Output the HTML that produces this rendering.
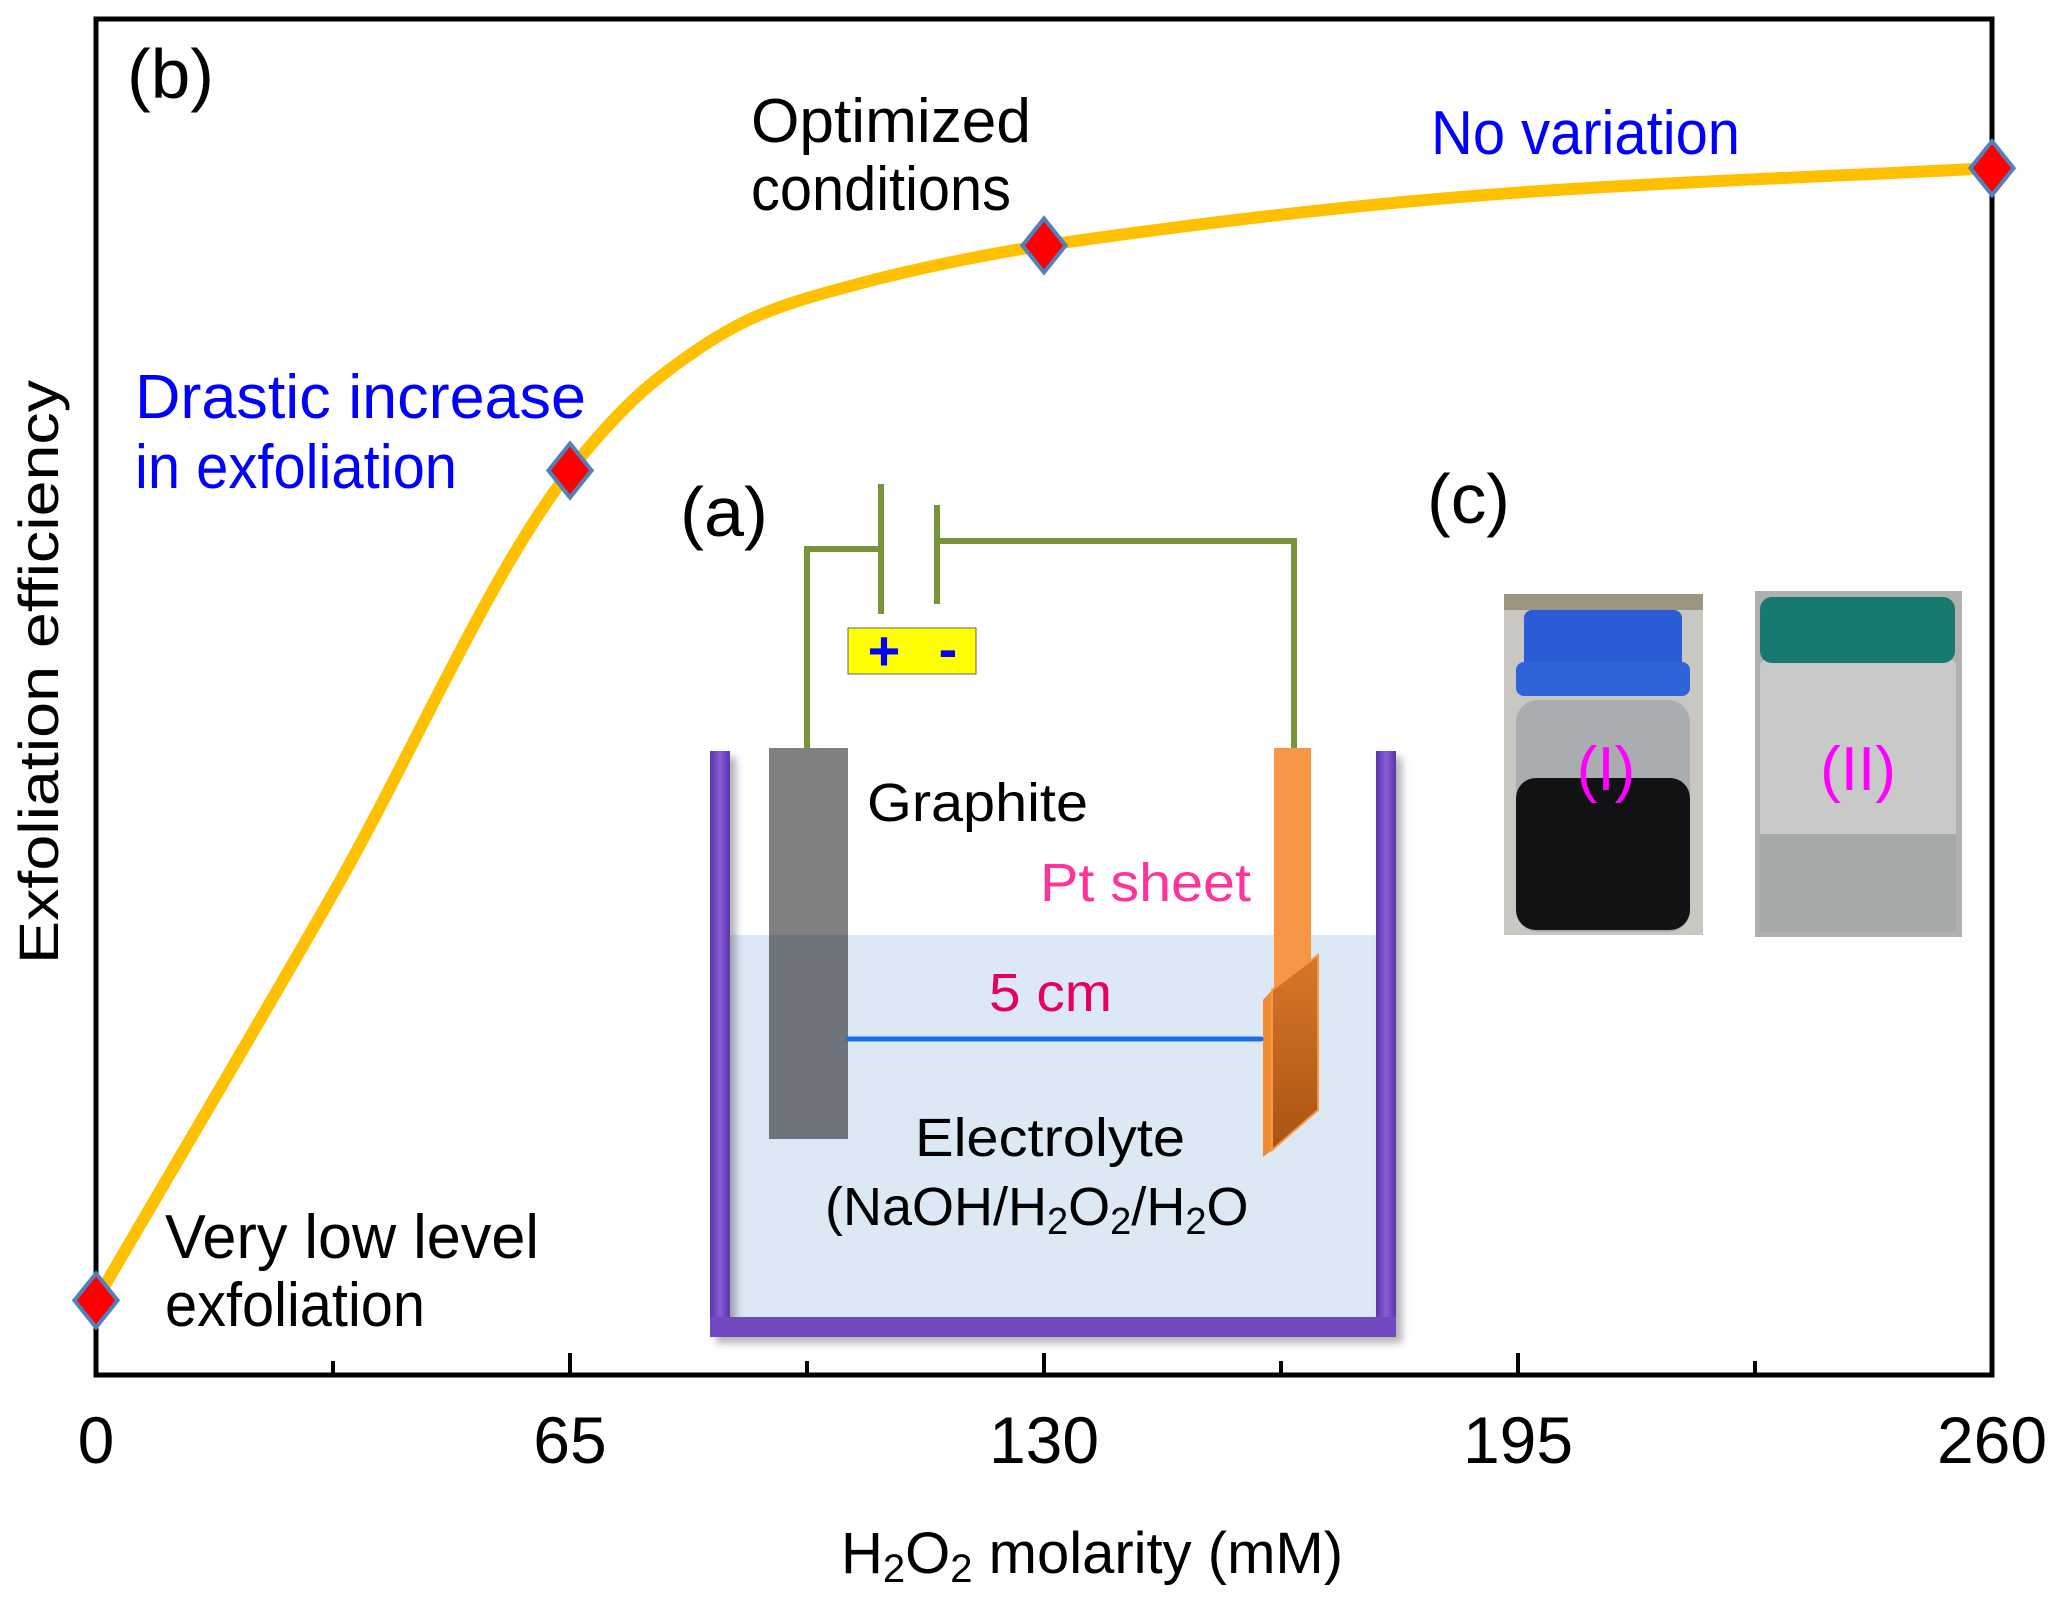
<!DOCTYPE html>
<html><head><meta charset="utf-8">
<style>
html,body{margin:0;padding:0;background:#fff;}
svg{display:block;font-family:"Liberation Sans",Arial,sans-serif;}
</style></head>
<body>
<svg id="chart" width="2059" height="1598" viewBox="0 0 2059 1598">
<defs>
  <linearGradient id="ptGrad" x1="0" y1="0" x2="0" y2="1">
    <stop offset="0" stop-color="#D9772A"/><stop offset="1" stop-color="#A85412"/>
  </linearGradient>
  <linearGradient id="wallGrad" x1="0" y1="0" x2="1" y2="0">
    <stop offset="0" stop-color="#5A35A8"/><stop offset="0.5" stop-color="#8A5CD8"/><stop offset="1" stop-color="#5A35A8"/>
  </linearGradient>
  <filter id="shadow" x="-5%" y="-5%" width="115%" height="115%">
    <feDropShadow dx="6" dy="6" stdDeviation="4" flood-color="#000" flood-opacity="0.3"/>
  </filter>
</defs>

<!-- inset (a): electrochemical cell -->
<g>
  <rect x="730" y="935" width="646" height="393" fill="#DDE8F5"/>
  <g filter="url(#shadow)">
    <rect x="710" y="751" width="20" height="586" fill="url(#wallGrad)"/>
    <rect x="1376" y="751" width="20" height="586" fill="url(#wallGrad)"/>
    <rect x="710" y="1317" width="686" height="20" fill="#7048C0"/>
  </g>
  <rect x="769" y="748" width="79" height="187" fill="#808080"/>
  <rect x="769" y="935" width="79" height="204" fill="#6F747C"/>
  <rect x="1274" y="748" width="37" height="250" fill="#F79646"/>
  <polygon points="1263,1000 1272,990 1272,1150 1263,1157" fill="#F08A30"/>
  <polygon points="1272,990 1318,955 1318,1110 1272,1150" fill="url(#ptGrad)" stroke="#F79646" stroke-width="2"/>
  <g fill="none" stroke="#77933C" stroke-width="6">
    <polyline points="807,748 807,549 880,549"/>
    <polyline points="936,541 1294,541 1294,748"/>
    <line x1="881" y1="484" x2="881" y2="614"/>
    <line x1="937" y1="505" x2="937" y2="604"/>
  </g>
  <rect x="848" y="628" width="128" height="46" fill="#FFFF00" stroke="#666" stroke-width="1"/>
  <text x="884" y="670" font-size="56" font-weight="bold" fill="#0000FF" text-anchor="middle">+</text>
  <text x="948" y="668" font-size="56" font-weight="bold" fill="#0000FF" text-anchor="middle">-</text>
  <line x1="848" y1="1039" x2="1261" y2="1039" stroke="#1A6EEB" stroke-width="5" stroke-linecap="round"/>
  <text x="867" y="821" font-size="54" fill="#000" textLength="221" lengthAdjust="spacingAndGlyphs">Graphite</text>
  <text x="1040" y="901" font-size="54" fill="#FF3399" textLength="211" lengthAdjust="spacingAndGlyphs">Pt sheet</text>
  <text x="989" y="1011" font-size="54" fill="#E6005C" textLength="123" lengthAdjust="spacingAndGlyphs">5 cm</text>
  <text x="915" y="1156" font-size="54" fill="#000" textLength="270" lengthAdjust="spacingAndGlyphs">Electrolyte</text>
  <text x="825" y="1225" font-size="54" fill="#000">(NaOH/H<tspan font-size="38" dy="9">2</tspan><tspan dy="-9">O</tspan><tspan font-size="38" dy="9">2</tspan><tspan dy="-9">/H</tspan><tspan font-size="38" dy="9">2</tspan><tspan dy="-9">O</tspan></text>
  <text x="680" y="536" font-size="70" fill="#000" textLength="88" lengthAdjust="spacingAndGlyphs">(a)</text>
</g>

<!-- inset (c): photos -->
<g>
  <g>
    <rect x="1504" y="594" width="199" height="341" fill="#C8C7C2"/>
    <rect x="1504" y="594" width="199" height="16" fill="#9D9580"/>
    <rect x="1516" y="700" width="174" height="232" rx="22" fill="#A9ADB0"/>
    <rect x="1516" y="778" width="174" height="152" rx="20" fill="#101214"/>
    <rect x="1524" y="610" width="158" height="66" rx="8" fill="#2B5CD8"/>
    <rect x="1516" y="662" width="174" height="34" rx="8" fill="#2F63DA"/>
    <text x="1606" y="790" font-size="62" fill="#FF00FF" text-anchor="middle">(I)</text>
  </g>
  <g>
    <rect x="1755" y="591" width="207" height="346" fill="#B0B0AE"/>
    <rect x="1760" y="660" width="196" height="272" rx="6" fill="#C8CACA"/>
    <rect x="1760" y="834" width="196" height="98" fill="#A6A9AA"/>
    <rect x="1760" y="597" width="195" height="66" rx="12" fill="#17796F"/>
    <text x="1858" y="790" font-size="62" fill="#FF00FF" text-anchor="middle">(II)</text>
  </g>
  <text x="1427" y="523" font-size="70" fill="#000" textLength="83" lengthAdjust="spacingAndGlyphs">(c)</text>
</g>

<!-- axes frame -->
<rect x="96" y="19" width="1896" height="1356" fill="none" stroke="#000" stroke-width="5"/>
<g id="ticks"></g>
<g id="curve"></g>
<g id="markers"></g>

<text x="127" y="98" font-size="70" fill="#000" textLength="87" lengthAdjust="spacingAndGlyphs">(b)</text>
<text x="751" y="142" font-size="62" fill="#000" textLength="280" lengthAdjust="spacingAndGlyphs">Optimized</text>
<text x="751" y="210" font-size="62" fill="#000" textLength="260" lengthAdjust="spacingAndGlyphs">conditions</text>
<text x="1431" y="154" font-size="62" fill="#0000FF" textLength="309" lengthAdjust="spacingAndGlyphs">No variation</text>
<text x="135" y="418" font-size="62" fill="#0000FF" textLength="451" lengthAdjust="spacingAndGlyphs">Drastic increase</text>
<text x="135" y="488" font-size="62" fill="#0000FF" textLength="322" lengthAdjust="spacingAndGlyphs">in exfoliation</text>
<text x="165" y="1258" font-size="62" fill="#000" textLength="374" lengthAdjust="spacingAndGlyphs">Very low level</text>
<text x="165" y="1326" font-size="62" fill="#000" textLength="260" lengthAdjust="spacingAndGlyphs">exfoliation</text>

<text x="841" y="1573" font-size="58" fill="#000">H<tspan font-size="40" dy="9">2</tspan><tspan dy="-9">O</tspan><tspan font-size="40" dy="9">2</tspan><tspan dy="-9"> molarity (mM)</tspan></text>
<text x="0" y="0" font-size="56" fill="#000" text-anchor="middle" textLength="584" lengthAdjust="spacingAndGlyphs" transform="translate(58,672) rotate(-90)">Exfoliation efficiency</text>

<script>
const tickValues = [0, 65, 130, 195, 260];
const minorTickValues = [32.5, 97.5, 162.5, 227.5];
const pointX = [0, 65, 130, 260];
const pointY = [5.5, 66.7, 83.3, 89.0];
const curveX = [0, 32.5, 65, 77.3, 91.1, 104.8, 118.5, 130, 195, 260];
const curveY = [5.5, 35.5, 66.7, 73.6, 78.2, 80.5, 82.2, 83.3, 87.2, 89.0];

const NS = 'http://www.w3.org/2000/svg';
const X0 = 96, X1 = 1992, Y0 = 1375, Y1 = 19;
function xs(v){ return X0 + (v - 0) / 260 * (X1 - X0); }
function ys(v){ return Y0 - v / 100 * (Y0 - Y1); }
function mk(tag, attrs, parent){ const e = document.createElementNS(NS, tag); for (const k in attrs) e.setAttribute(k, attrs[k]); parent.appendChild(e); return e; }

const tg = document.getElementById('ticks');
tickValues.forEach(v => {
  const t = mk('line', {x1: xs(v), x2: xs(v), y1: Y0, y2: Y0 - 22, stroke: '#000', 'stroke-width': 4}, tg);
  
  
  const l = mk('text', {x: xs(v), y: 1463, 'font-size': 66, 'text-anchor': 'middle', fill: '#000'}, tg);
  l.textContent = String(v);
  
  
});
minorTickValues.forEach(v => {
  const t = mk('line', {x1: xs(v), x2: xs(v), y1: Y0, y2: Y0 - 14, stroke: '#000', 'stroke-width': 4}, tg);
  
  
});

// monotone cubic (Fritsch-Carlson) through curve points
const P = curveX.map((v, i) => [xs(v), ys(curveY[i])]);
const n = P.length, dx = [], sl = [], m = [];
for (let i = 0; i < n - 1; i++) { dx[i] = P[i+1][0] - P[i][0]; sl[i] = (P[i+1][1] - P[i][1]) / dx[i]; }
m[0] = sl[0]; m[n-1] = sl[n-2];
for (let i = 1; i < n - 1; i++) {
  if (sl[i-1] * sl[i] <= 0) m[i] = 0;
  else { const w1 = 2*dx[i] + dx[i-1], w2 = dx[i] + 2*dx[i-1]; m[i] = (w1 + w2) / (w1 / sl[i-1] + w2 / sl[i]); }
}
let d = 'M' + P[0][0] + ',' + P[0][1];
for (let i = 0; i < n - 1; i++) {
  const h = dx[i] / 3;
  d += ' C' + (P[i][0] + h) + ',' + (P[i][1] + m[i]*h) + ' ' + (P[i+1][0] - h) + ',' + (P[i+1][1] - m[i+1]*h) + ' ' + P[i+1][0] + ',' + P[i+1][1];
}
const path = mk('path', {d: d, fill: 'none', stroke: '#FFC000', 'stroke-width': 12, 'stroke-linecap': 'round'}, document.getElementById('curve'));



const mg = document.getElementById('markers');
pointX.forEach((v, i) => {
  const cx = xs(v), cy = ys(pointY[i]), r = 27;
  const mkr = mk('polygon', {points: `${cx},${cy - r} ${cx + r * 0.8},${cy} ${cx},${cy + r} ${cx - r * 0.8},${cy}`, fill: '#FF0000', stroke: '#4F81BD', 'stroke-width': 4}, mg);
  
  
});
</script>
</svg>
</body></html>
